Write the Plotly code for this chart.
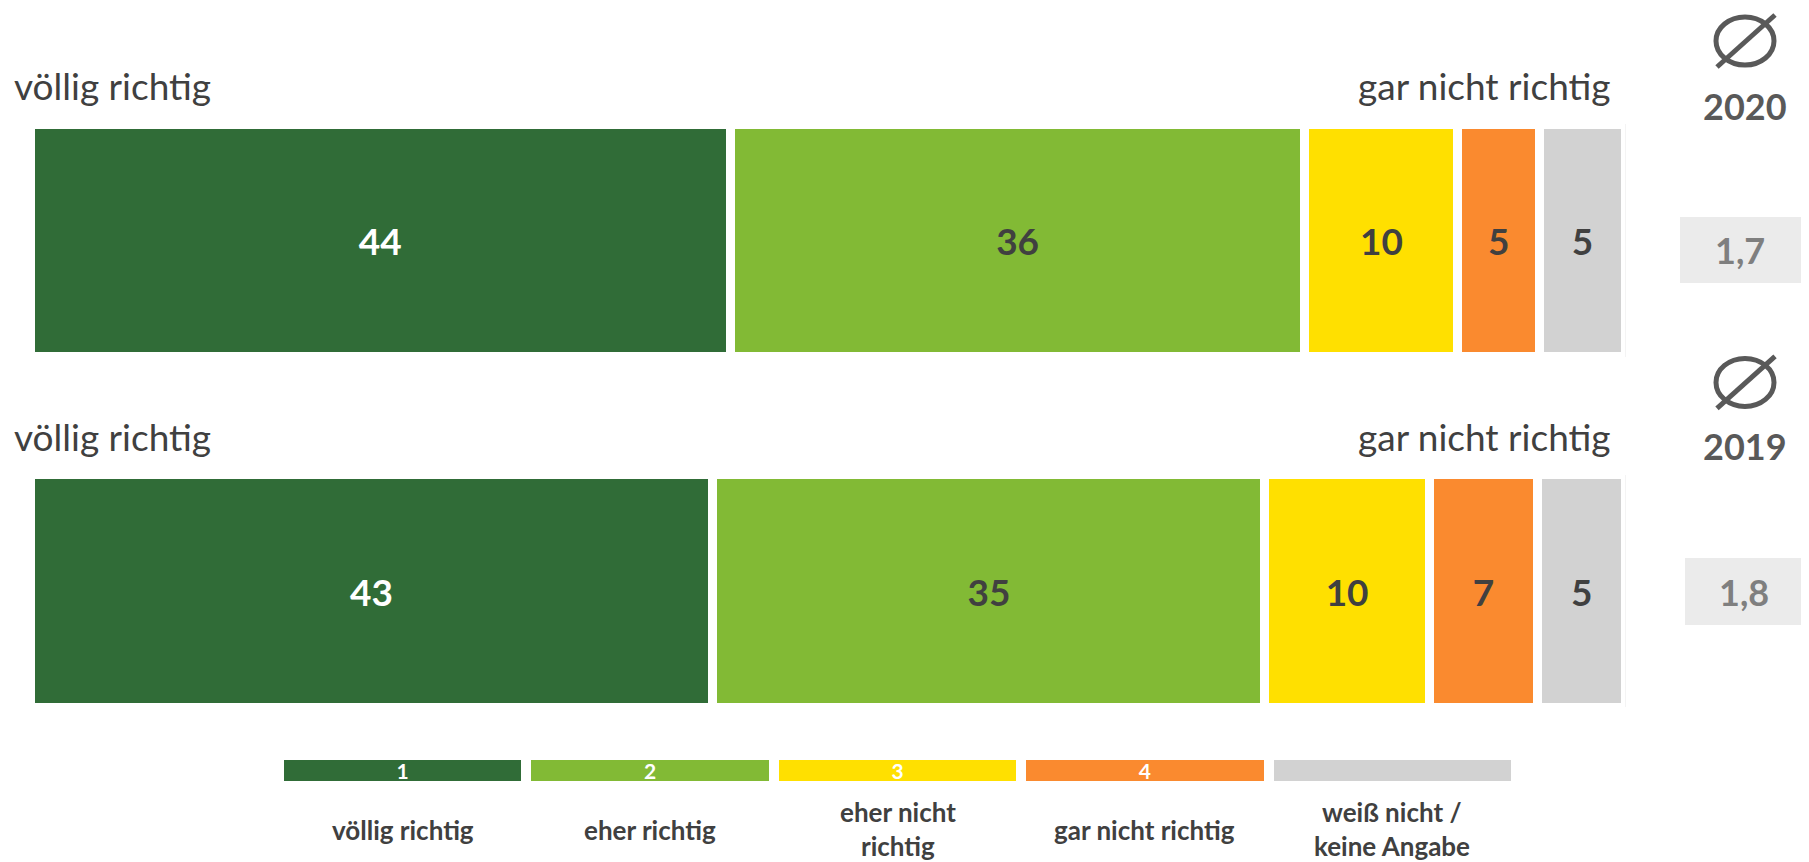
import plotly.graph_objects as go

# ---------------- data ----------------
years = ["2020", "2019"]
categories = ["völlig richtig", "eher richtig", "eher nicht richtig",
              "gar nicht richtig", "weiß nicht / keine Angabe"]
values_2020 = [43.9, 36.0, 9.6, 5.1, 5.4]
values_2019 = [42.8, 34.6, 10.3, 6.8, 5.5]
labels_2020 = ["44", "36", "10", "5", "5"]
labels_2019 = ["43", "35", "10", "7", "5"]
averages = ["1,7", "1,8"]
legend_numbers = ["1", "2", "3", "4", ""]
legend_labels = [["völlig richtig"], ["eher richtig"], ["eher nicht", "richtig"],
                 ["gar nicht richtig"], ["weiß nicht /", "keine Angabe"]]
scale_left = "völlig richtig"
scale_right = "gar nicht richtig"

colors = ["#306C37", "#82BA35", "#FFE000", "#FA8A2F", "#D2D2D2"]
text_colors = ["#FFFFFF", "#404040", "#404040", "#404040", "#404040"]

# page body has an 8px margin; the figure is sized to fill the rest of the window
OFF = 8
W, H = 1809 - OFF, 862 - OFF
FONT = "Lato"


def px(x):
    return (x - OFF) / W


def py(y):
    return 1 - (y - OFF) / H


fig = go.Figure()

# main stacked bars
for i, cat in enumerate(categories):
    fig.add_trace(go.Bar(
        orientation="h",
        y=years,
        x=[values_2020[i], values_2019[i]],
        name=cat,
        marker=dict(color=colors[i], line=dict(color="white", width=9)),
        width=[0.662, 0.662],
        text=[labels_2020[i], labels_2019[i]],
        textposition="inside",
        insidetextanchor="middle",
        constraintext="none",
        textfont=dict(family=FONT, size=37, color=text_colors[i], weight="bold"),
        hoverinfo="skip",
        showlegend=False,
    ))

# legend strip
fig.add_trace(go.Bar(
    orientation="h",
    y=["L"] * len(categories),
    x=[1] * len(categories),
    base=list(range(len(categories))),
    marker=dict(color=colors, line=dict(color="white", width=10)),
    width=1,
    text=legend_numbers,
    textposition="inside",
    insidetextanchor="middle",
    constraintext="none",
    textfont=dict(family=FONT, size=21, color="white", weight="bold"),
    xaxis="x2", yaxis="y2",
    hoverinfo="skip",
    showlegend=False,
))

annotations = []
shapes = []

# scale end labels and right column per year
row_offsets = [0, 350.5]
for r, yr in enumerate(years):
    off = row_offsets[r]
    annotations.append(dict(text=scale_left, x=px(12), y=py(86 + off), xref="paper", yref="paper",
                            xanchor="left", yanchor="middle", showarrow=False,
                            font=dict(family=FONT, size=37, color="#404040")))
    annotations.append(dict(text=scale_right, x=px(1613), y=py(86 + off), xref="paper", yref="paper",
                            xanchor="right", yanchor="middle", showarrow=False,
                            font=dict(family=FONT, size=37, color="#404040")))
    # Ø symbol
    cy = 41 + off * 0.974
    shapes.append(dict(type="circle", xref="paper", yref="paper",
                       x0=px(1716), x1=px(1774), y0=py(cy - 24), y1=py(cy + 24),
                       line=dict(color="#595959", width=5)))
    shapes.append(dict(type="line", xref="paper", yref="paper",
                       x0=px(1717), x1=px(1775), y0=py(cy + 26), y1=py(cy - 26),
                       line=dict(color="#595959", width=5)))
    annotations.append(dict(text="<b>%s</b>" % yr, x=px(1745), y=py(106 + off * 0.97),
                            xref="paper", yref="paper", xanchor="center", yanchor="middle",
                            showarrow=False, font=dict(family=FONT, size=36, color="#595959")))

# average boxes
box_x0 = [1680, 1685]
box_y = [(217, 283), (558, 625)]
avg_x = [1740, 1744]
for r, avg in enumerate(averages):
    y0, y1 = box_y[r]
    shapes.append(dict(type="rect", xref="paper", yref="paper",
                       x0=px(box_x0[r]), x1=px(1809), y0=py(y1), y1=py(y0),
                       fillcolor="#EBEBEB", line=dict(width=0), layer="below"))
    annotations.append(dict(text="<b>%s</b>" % avg, x=px(avg_x[r]), y=py((y0 + y1) / 2),
                            xref="paper", yref="paper", xanchor="center", yanchor="middle",
                            showarrow=False, font=dict(family=FONT, size=36, color="#7F7F7F")))

# legend labels
for i, lines in enumerate(legend_labels):
    if len(lines) == 1:
        ys = [830]
    else:
        ys = [812, 846]
    for line, yy in zip(lines, ys):
        annotations.append(dict(text="<b>%s</b>" % line, x=i + 0.5, xref="x2",
                                y=py(yy), yref="paper", xanchor="center", yanchor="middle",
                                showarrow=False, font=dict(family=FONT, size=26, color="#404040")))

# y axis: category centres at 240.5px (2020) and 591px (2019), 350.5px per unit
unit = 350.5
y_top = 1 + (240.5 - OFF) / unit
y_bot = y_top - H / unit

fig.update_layout(
    width=W, height=H,
    margin=dict(l=0, r=0, t=0, b=0),
    paper_bgcolor="white", plot_bgcolor="white",
    barmode="stack",
    font=dict(family=FONT),
    xaxis=dict(domain=[px(30), px(1625.5)], range=[0, 100], visible=False, fixedrange=True),
    yaxis=dict(domain=[0, 1], type="category", categoryarray=["2019", "2020"],
               categoryorder="array", range=[y_bot, y_top], visible=False, fixedrange=True),
    xaxis2=dict(domain=[px(279), px(1516)], range=[0, 5], visible=False, anchor="y2", fixedrange=True),
    yaxis2=dict(domain=[py(786), py(755)], range=[-0.5, 0.5], visible=False, anchor="x2", fixedrange=True),
    annotations=annotations,
    shapes=shapes,
)

fig.write_html("out.html", config={"displayModeBar": False})
